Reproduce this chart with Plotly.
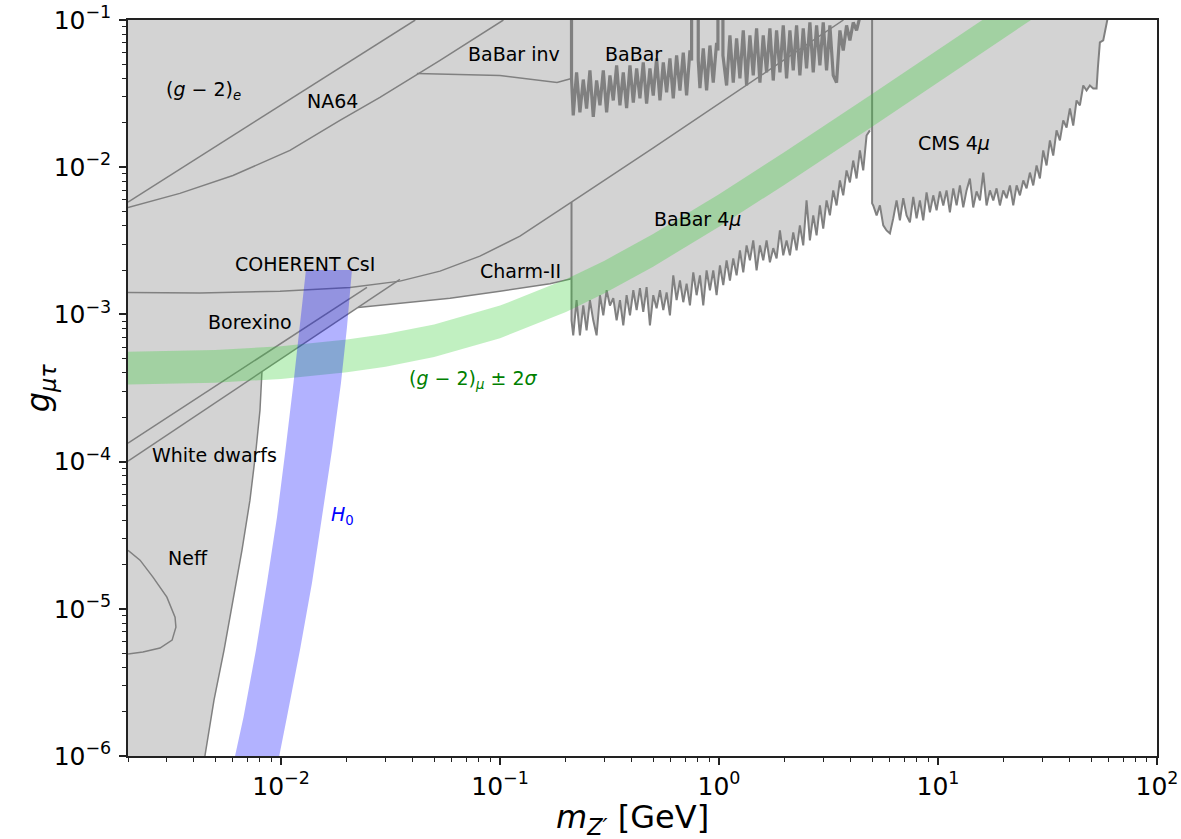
import plotly.graph_objects as go

# ---------------- exclusion limits (m in GeV, g dimensionless) ----------------
GM2E_M = [0.002, 0.041]
GM2E_G = [5.8e-3, 0.1]

NA64_M = [0.002, 3.45e-3, 6.03e-3, 0.01098, 0.01857, 0.02828, 0.0532, 0.1036]
NA64_G = [5.33e-3, 6.64e-3, 8.79e-3, 0.0130, 0.0208, 0.0298, 0.0531, 0.1]

BABAR_INV_M = [0.0417, 0.0999, 0.182, 0.212]
BABAR_INV_G = [0.0433, 0.0420, 0.0376, 0.0401]

COHERENT_M = [0.002, 0.00426, 0.00989, 0.02064, 0.0349, 0.0532, 0.0809, 0.1233,
              0.2152, 0.499, 1.762, 3.70]
COHERENT_G = [1.406e-3, 1.40e-3, 1.439e-3, 1.521e-3, 1.683e-3, 1.968e-3, 2.488e-3,
              3.40e-3, 5.88e-3, 0.01346, 0.0476, 0.1]

BOREXINO_M = [0.002, 0.02468]
BOREXINO_G = [1.333e-4, 1.528e-3]

WD_EDGE_M = [0.002, 0.0349]
WD_EDGE_G = [1.006e-4, 1.731e-3]

WD_M = [8.18e-3, 8.01e-3, 7.68e-3, 7.21e-3, 6.63e-3, 6.03e-3, 5.49e-3, 4.94e-3, 4.49e-3]
WD_G = [4.09e-4, 2.23e-4, 1.195e-4, 5.47e-5, 2.50e-5, 1.146e-5, 5.24e-6, 2.40e-6, 1.0e-6]

NEFF_M = [0.002, 2.27e-3, 2.60e-3, 3.01e-3, 3.28e-3, 3.31e-3, 3.18e-3, 2.80e-3, 2.34e-3, 0.002]
NEFF_G = [2.50e-5, 2.14e-5, 1.64e-5, 1.20e-5, 8.78e-6, 7.51e-6, 6.13e-6, 5.41e-6, 5.08e-6, 4.93e-6]

CHARM_M = [0.02245, 0.0349, 0.0591, 0.0999, 0.169, 0.212]
CHARM_G = [1.116e-3, 1.19e-3, 1.286e-3, 1.435e-3, 1.613e-3, 1.744e-3]

BABAR_M = [0.212, 0.212, 0.2159, 0.2236, 0.2316, 0.2399, 0.2484, 0.2573, 0.2665, 0.2760,
           0.2859, 0.2961, 0.3067, 0.3176, 0.3289, 0.3407, 0.3528, 0.3654, 0.3784, 0.3920,
           0.4060, 0.4205, 0.4353, 0.4508, 0.4669, 0.4836, 0.5008, 0.5187, 0.5373, 0.5565,
           0.5763, 0.5968, 0.6181, 0.6401, 0.6630, 0.6866, 0.7111, 0.7365, 0.7494, 0.7494,
           0.8037, 0.8037, 0.8181, 0.8473, 0.8775, 0.9087, 0.9411, 0.9747, 0.9885, 0.9885,
           1.0418, 1.0418, 1.0828, 1.1214, 1.1614, 1.2028, 1.2457, 1.2901, 1.3361, 1.3837,
           1.4331, 1.4842, 1.5371, 1.5919, 1.6487, 1.7075, 1.7684, 1.8315, 1.8968, 1.9645,
           2.0345, 2.107, 2.182, 2.260, 2.340, 2.424, 2.510, 2.600, 2.693, 2.789,
           2.888, 2.991, 3.098, 3.208, 3.323, 3.441, 3.564, 3.691, 3.823, 3.959,
           4.100, 4.247, 4.398]
BABAR_G = [0.11, 0.0401, 0.0225, 0.0440, 0.0236, 0.0394, 0.0250, 0.0454, 0.0220, 0.0388,
           0.0263, 0.0454, 0.0236, 0.0420, 0.0284, 0.0491, 0.0263, 0.0440, 0.0252, 0.0491,
           0.0275, 0.0469, 0.0294, 0.0515, 0.0270, 0.0469, 0.0307, 0.0548, 0.0284, 0.0515,
           0.0322, 0.0548, 0.0294, 0.0574, 0.0332, 0.0600, 0.0307, 0.0621, 0.0531, 0.11,
           0.11, 0.0531, 0.0345, 0.0641, 0.0332, 0.0671, 0.0376, 0.0700, 0.0621, 0.11,
           0.11, 0.0574, 0.0359, 0.0785, 0.0376, 0.0750, 0.0401, 0.0849, 0.0359, 0.0785,
           0.0420, 0.0876, 0.0376, 0.0785, 0.0440, 0.0876, 0.0388, 0.0849, 0.0440, 0.0918,
           0.0401, 0.0849, 0.0454, 0.0918, 0.0420, 0.0876, 0.0469, 0.0962, 0.0440, 0.0918,
           0.0491, 0.0962, 0.0454, 0.0918, 0.0420, 0.0376, 0.0849, 0.0621, 0.0918, 0.0726,
           0.0962, 0.0849, 0.105]

BABAR4MU_M = [0.212, 0.212, 0.2159, 0.2236, 0.2316, 0.2399, 0.2484, 0.2573, 0.2665, 0.2760,
              0.2859, 0.2961, 0.3067, 0.3176, 0.3289, 0.3407, 0.3528, 0.3654, 0.3784, 0.3920,
              0.4060, 0.4205, 0.4353, 0.4508, 0.4669, 0.4836, 0.5008, 0.5187, 0.5373, 0.5565,
              0.5763, 0.5968, 0.6181, 0.6401, 0.6630, 0.6866, 0.7111, 0.7365, 0.7628, 0.7900,
              0.8181, 0.8473, 0.8775, 0.9087, 0.9411, 0.9747, 1.0095, 1.0455, 1.0828, 1.1214,
              1.1614, 1.2028, 1.2457, 1.2901, 1.3361, 1.3837, 1.4331, 1.4842, 1.5371, 1.5919,
              1.6487, 1.7075, 1.7684, 1.8315, 1.8968, 1.9645, 2.0345, 2.107, 2.182, 2.260,
              2.340, 2.424, 2.510, 2.600, 2.693, 2.789, 2.888, 2.991, 3.098, 3.208,
              3.323, 3.441, 3.564, 3.691, 3.823, 3.959, 4.100, 4.247, 4.398, 4.555,
              4.717, 4.886]
BABAR4MU_G = [5.8e-3, 9.12e-4, 7.21e-4, 1.25e-3, 7.21e-4, 1.15e-3, 7.80e-4, 1.25e-3, 9.12e-4, 7.21e-4,
              1.35e-3, 9.86e-4, 1.46e-3, 1.15e-3, 1.29e-3, 9.12e-4, 1.25e-3, 8.43e-4, 1.35e-3, 9.86e-4,
              1.46e-3, 1.07e-3, 1.51e-3, 1.04e-3, 1.53e-3, 8.43e-4, 1.35e-3, 1.10e-3, 1.46e-3, 1.07e-3,
              1.41e-3, 9.86e-4, 1.84e-3, 1.25e-3, 1.70e-3, 1.21e-3, 1.62e-3, 1.15e-3, 1.93e-3, 1.35e-3,
              1.84e-3, 1.15e-3, 1.99e-3, 1.46e-3, 1.99e-3, 1.35e-3, 2.15e-3, 1.58e-3, 2.33e-3, 1.70e-3,
              2.40e-3, 1.84e-3, 2.72e-3, 1.93e-3, 2.94e-3, 2.33e-3, 3.18e-3, 1.99e-3, 2.94e-3, 2.33e-3,
              3.18e-3, 2.26e-3, 2.82e-3, 2.40e-3, 3.72e-3, 2.52e-3, 3.18e-3, 2.52e-3, 3.61e-3, 2.72e-3,
              4.03e-3, 2.94e-3, 5.95e-3, 3.18e-3, 4.71e-3, 3.44e-3, 5.50e-3, 3.83e-3, 5.95e-3, 4.71e-3,
              6.96e-3, 5.50e-3, 8.13e-3, 6.44e-3, 9.51e-3, 7.88e-3, 0.0111, 8.38e-3, 0.0130, 9.51e-3,
              0.0164, 0.0178]

CMS_M = [5.0, 5.0, 5.060, 5.243, 5.428, 5.622, 5.822, 6.030, 6.245, 6.468,
         6.699, 6.938, 7.185, 7.441, 7.707, 7.982, 8.265, 8.560, 8.866, 9.184,
         9.511, 9.851, 10.20, 10.57, 10.94, 11.33, 11.74, 12.16, 12.59, 13.04,
         13.50, 13.98, 14.48, 15.00, 15.54, 16.09, 16.66, 17.26, 17.88, 18.51,
         19.17, 19.86, 20.57, 21.30, 22.06, 22.85, 23.66, 24.51, 25.38, 26.28,
         27.22, 28.19, 29.19, 30.23, 31.31, 32.43, 33.58, 34.78, 36.02, 37.31,
         38.64, 40.02, 41.44, 42.92, 44.45, 46.04, 47.68, 49.38, 51.14, 52.97,
         53.72, 54.85, 56.81, 58.84, 59.68]
CMS_G = [0.11, 5.68e-3, 5.50e-3, 4.71e-3, 5.50e-3, 4.03e-3, 3.72e-3, 3.55e-3, 4.49e-3, 5.95e-3,
         4.35e-3, 6.16e-3, 4.71e-3, 4.22e-3, 6.28e-3, 4.49e-3, 5.95e-3, 4.35e-3, 6.75e-3, 4.94e-3,
         6.44e-3, 5.09e-3, 6.85e-3, 5.50e-3, 6.96e-3, 4.94e-3, 7.18e-3, 5.50e-3, 7.52e-3, 5.33e-3,
         6.96e-3, 8.38e-3, 5.33e-3, 6.85e-3, 5.95e-3, 9.19e-3, 5.50e-3, 6.96e-3, 5.95e-3, 7.18e-3,
         5.50e-3, 6.96e-3, 6.16e-3, 7.52e-3, 5.50e-3, 7.52e-3, 6.44e-3, 8.13e-3, 7.18e-3, 9.19e-3,
         7.52e-3, 0.01028, 8.38e-3, 0.0130, 0.01028, 0.0152, 0.0120, 0.0178, 0.0152, 0.0208,
         0.0186, 0.0251, 0.0192, 0.0284, 0.0263, 0.0359, 0.0332, 0.0359, 0.0343, 0.0343,
         0.0476, 0.0704, 0.0726, 0.0918, 0.105]

# ---------------- preferred bands ----------------
GM2_M = [0.002, 0.005, 0.01, 0.02, 0.03, 0.05, 0.1, 0.2, 0.3, 0.5, 1, 2, 5, 10, 20, 40]
GM2_LO = [3.343e-4, 3.439e-4, 3.646e-4, 4.047e-4, 4.416e-4, 5.134e-4, 6.887e-4, 1.0385e-3,
          1.3916e-3, 2.111e-3, 3.936e-3, 7.643e-3, 0.018853, 0.037603, 0.07526, 0.1505]
GM2_HI = [5.568e-4, 5.728e-4, 6.074e-4, 6.742e-4, 7.357e-4, 8.553e-4, 1.1474e-3, 1.730e-3,
          2.3183e-3, 3.517e-3, 6.557e-3, 0.012732, 0.031408, 0.062643, 0.12538, 0.2508]

H0_G = [2.0e-3, 8.18e-4, 3.40e-4, 1.195e-4, 4.19e-5, 1.495e-5, 5.24e-6, 1.84e-6, 1.0e-6, 8.04e-7]
H0_LEFT_M = [0.01299, 0.01220, 0.01139, 0.01047, 9.58e-3, 8.62e-3, 7.68e-3, 6.74e-3, 6.16e-3, 5.97e-3]
H0_RIGHT_M = [0.02107, 0.02000, 0.01877, 0.01708, 0.01537, 0.01384, 0.01220, 0.01064, 9.83e-3, 9.53e-3]

# ---------------- axes ----------------
X_TICKS = [1e-2, 1e-1, 1, 10, 100]
X_TICKTEXT = ["10<sup>−2</sup>", "10<sup>−1</sup>", "10<sup>0</sup>", "10<sup>1</sup>", "10<sup>2</sup>"]
Y_TICKS = [1e-6, 1e-5, 1e-4, 1e-3, 1e-2, 1e-1]
Y_TICKTEXT = ["10<sup>−6</sup>", "10<sup>−5</sup>", "10<sup>−4</sup>", "10<sup>−3</sup>",
              "10<sup>−2</sup>", "10<sup>−1</sup>"]

# ---------------- region labels ----------------
LABELS = [
    ("(<i>g</i> − 2)<sub><i>e</i></sub>", 0.0729, 0.9043, "black"),
    ("NA64", 0.1992, 0.8894, "black"),
    ("BaBar inv", 0.3751, 0.9532, "black"),
    ("BaBar", 0.4917, 0.9532, "black"),
    ("CMS 4<i>μ</i>", 0.8027, 0.8323, "black"),
    ("BaBar 4<i>μ</i>", 0.5539, 0.7291, "black"),
    ("Charm-II", 0.3819, 0.6585, "black"),
    ("COHERENT CsI", 0.1720, 0.6680, "black"),
    ("Borexino", 0.1186, 0.5893, "black"),
    ("White dwarfs", 0.0836, 0.4087, "black"),
    ("Neff", 0.0583, 0.2688, "black"),
    ("<i>H</i><sub>0</sub>", 0.2089, 0.3272, "blue"),
    ("(<i>g</i> − 2)<sub><i>μ</i></sub> ± 2<i>σ</i>", 0.3362, 0.5119, "green"),
]

for a, b in [(BABAR_M, BABAR_G), (BABAR4MU_M, BABAR4MU_G), (CMS_M, CMS_G), (H0_LEFT_M, H0_G)]:
    assert len(a) == len(b)

FONT = "DejaVu Sans"
FILL = "#d3d3d3"
EDGE = "rgb(128,128,128)"
TOP = 1.0  # above the plotted range, closes regions upward

fig = go.Figure()


def add_fill(xs, ys, color=FILL):
    fig.add_trace(go.Scatter(x=xs, y=ys, mode="lines", fill="toself", fillcolor=color,
                             line=dict(width=0), hoverinfo="skip", showlegend=False))


def add_line(xs, ys, width=1.5):
    fig.add_trace(go.Scatter(x=xs, y=ys, mode="lines", line=dict(color=EDGE, width=width),
                             hoverinfo="skip", showlegend=False))


def above(m, g, m_right=None):
    right = m[-1] if m_right is None else m_right
    return list(m) + [right, right, m[0]], list(g) + [g[-1], TOP, TOP]


# excluded regions (filled)
add_fill(*above(COHERENT_M, COHERENT_G))
add_fill(*above(BOREXINO_M, BOREXINO_G))
add_fill(*above(WD_EDGE_M, WD_EDGE_G))
add_fill(*above(CHARM_M, CHARM_G))
add_fill(*above(BABAR4MU_M, BABAR4MU_G, m_right=CMS_M[0]))
add_fill(*above(CMS_M, CMS_G))
add_fill([WD_EDGE_M[0], WD_M[0]] + WD_M + [WD_EDGE_M[0]],
         [WD_EDGE_G[0], WD_G[0]] + WD_G + [WD_G[-1]])

# region boundaries
for m, g in [(GM2E_M, GM2E_G), (NA64_M, NA64_G), (BABAR_INV_M, BABAR_INV_G),
             (COHERENT_M, COHERENT_G), (BOREXINO_M, BOREXINO_G), (WD_EDGE_M, WD_EDGE_G),
             (WD_M, WD_G), (NEFF_M, NEFF_G), (CHARM_M, CHARM_G)]:
    add_line(m, g, 1.5)
add_line(BABAR_M, BABAR_G, 3.2)
add_line(BABAR4MU_M, BABAR4MU_G, 2)
add_line(CMS_M, CMS_G, 2)

# (g-2)_mu band
add_fill(GM2_M + GM2_M[::-1], GM2_LO + GM2_HI[::-1], color="rgba(50,205,50,0.3)")
# H0 band
add_fill(H0_LEFT_M + H0_RIGHT_M[::-1], H0_G + H0_G[::-1], color="rgba(0,0,255,0.3)")

for text, x, y, color in LABELS:
    fig.add_annotation(text=text, x=x, y=y, xref="paper", yref="paper", showarrow=False,
                       xanchor="center", yanchor="middle",
                       font=dict(family=FONT, size=19, color=color))

# axis titles
fig.add_annotation(text="<i>m</i><sub><i>Z′</i></sub> [GeV]", x=0.4898, y=-0.0855,
                   xref="paper", yref="paper", showarrow=False, xanchor="center",
                   yanchor="middle", font=dict(family=FONT, size=32, color="black"))
fig.add_annotation(text="<i>g</i><sub><i>μτ</i></sub>", x=-0.0855, y=0.4997,
                   xref="paper", yref="paper", showarrow=False, xanchor="center",
                   yanchor="middle", textangle=-90,
                   font=dict(family=FONT, size=32, color="black"))

x_minor = [k * 10.0 ** e for e in range(-3, 2) for k in range(2, 10)]
y_minor = [k * 10.0 ** e for e in range(-6, -1) for k in range(2, 10)]

axis_common = dict(type="log", showline=True, linecolor="#222", linewidth=1.5, mirror=True,
                   ticks="outside", ticklen=7, tickwidth=1.5, tickcolor="#222",
                   showgrid=False, zeroline=False, automargin=False,
                   tickfont=dict(family=FONT, size=25, color="black"))

fig.update_xaxes(range=[-2.69897, 2], tickvals=X_TICKS, ticktext=X_TICKTEXT,
                 minor=dict(tickvals=x_minor, ticks="outside", ticklen=4, tickwidth=1,
                            tickcolor="#222", showgrid=False),
                 **axis_common)
fig.update_yaxes(range=[-6, -1], tickvals=Y_TICKS, ticktext=Y_TICKTEXT, ticklabelstandoff=3,
                 minor=dict(tickvals=y_minor, ticks="outside", ticklen=4, tickwidth=1,
                            tickcolor="#222", showgrid=False),
                 **axis_common)

fig.update_layout(width=1181, height=839, margin=dict(l=128, r=24, t=20, b=83),
                  plot_bgcolor="white", paper_bgcolor="white",
                  font=dict(family=FONT), showlegend=False)

fig.write_html("out.html")
